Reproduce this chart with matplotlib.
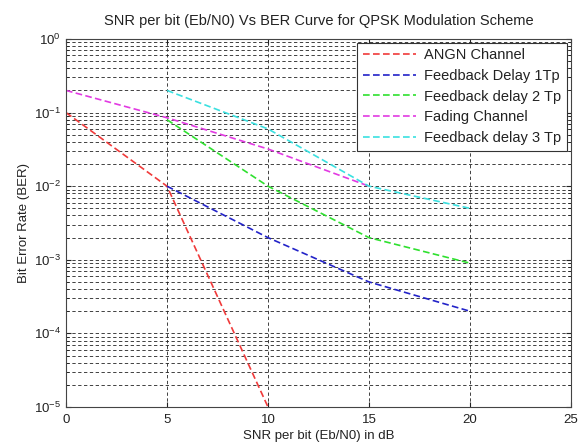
import matplotlib
matplotlib.use("Agg")
import matplotlib.pyplot as plt
from matplotlib.ticker import LogLocator, NullFormatter

plt.rcParams["font.family"] = ["Liberation Sans", "DejaVu Sans"]

# data (SNR in dB, BER)
snr_awgn = [0, 5, 10]
ber_awgn = [1e-1, 1e-2, 1e-5]
snr_fb1 = [5, 10, 15, 20]
ber_fb1 = [1e-2, 2e-3, 5e-4, 2e-4]
snr_fb2 = [5, 10, 15, 20]
ber_fb2 = [8e-2, 1e-2, 2e-3, 9e-4]
snr_fading = [0, 5, 10, 15]
ber_fading = [2e-1, 8.5e-2, 3.2e-2, 1e-2]
snr_fb3 = [5, 10, 15, 20]
ber_fb3 = [2e-1, 6e-2, 1e-2, 5e-3]

labels = ["ANGN Channel", "Feedback Delay 1Tp", "Feedback delay 2 Tp",
          "Fading Channel", "Feedback delay 3 Tp"]
colors = ["#f03a3a", "#2323c8", "#2fe02f", "#e23ae2", "#3ae0e0"]

fig = plt.figure(figsize=(5.82, 4.43), dpi=100)
ax = fig.add_axes([0.1134, 0.0813, 0.8676, 0.8307])

series = [(snr_awgn, ber_awgn), (snr_fb1, ber_fb1), (snr_fb2, ber_fb2),
          (snr_fading, ber_fading), (snr_fb3, ber_fb3)]
for (x, y), lab, c in zip(series, labels, colors):
    ax.semilogy(x, y, linestyle=(0, (4, 2)), color=c, lw=1.2, label=lab)

ax.set_xlim(0, 25)
ax.set_ylim(1e-5, 1)
ax.set_xticks([0, 5, 10, 15, 20, 25])
ax.yaxis.set_major_locator(LogLocator(base=10, numticks=10))
ax.yaxis.set_minor_locator(LogLocator(base=10, subs=range(2, 10), numticks=20))
ax.yaxis.set_minor_formatter(NullFormatter())

gs = dict(color="#222222", linestyle=(0, (4, 3)), lw=0.6)
ax.grid(True, which="major", axis="both", **gs)
ax.grid(True, which="minor", axis="y", **gs)
ax.tick_params(which="both", direction="in", top=True, right=True,
               labelsize=9.5, labelcolor="#222222", color="#222222")
ax.tick_params(axis="x", pad=5)
for s in ax.spines.values():
    s.set_color("#444444")
    s.set_linewidth(0.8)

ax.set_title("SNR per bit (Eb/N0) Vs BER Curve for QPSK Modulation Scheme",
             fontsize=10.5, color="#222222", pad=10)
ax.set_xlabel("SNR per bit (Eb/N0) in dB", fontsize=9.5, color="#222222", labelpad=3)
ax.set_ylabel("Bit Error Rate (BER)", fontsize=9.5, color="#222222", labelpad=3)

leg = ax.legend(loc="upper right", fontsize=10.5, handlelength=3.6, labelspacing=0.45,
                borderaxespad=0.25, handletextpad=0.6, fancybox=False, framealpha=1)
leg.get_frame().set_edgecolor("#333333")
leg.get_frame().set_linewidth(0.8)
for t in leg.get_texts():
    t.set_color("#222222")

fig.savefig("out.png", dpi=100)
